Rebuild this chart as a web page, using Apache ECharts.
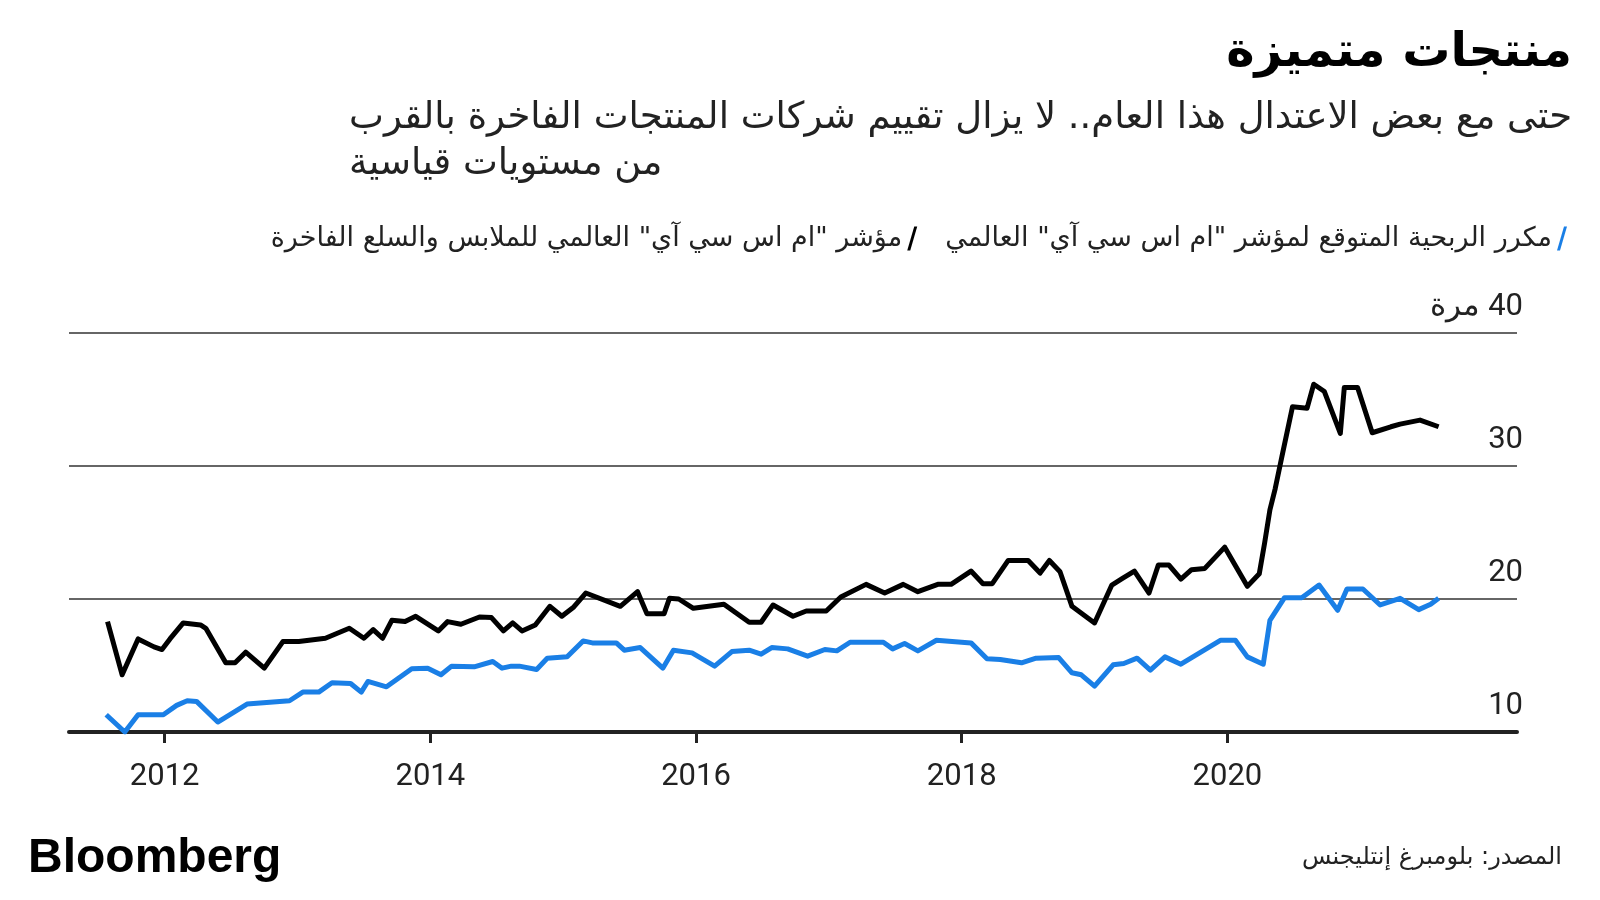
<!DOCTYPE html>
<html>
<head>
<meta charset="utf-8">
<script src="https://cdn.jsdelivr.net/npm/echarts@6/dist/echarts.min.js"></script>
<style>
  html, body { margin: 0; padding: 0; background: #fff; }
  #chart { width: 1600px; height: 900px; }
</style>
</head>
<body>
<div id="chart"></div>
<script>
// luxury index P/E (black)
var luxYears = [2011.57, 2011.68, 2011.80, 2011.92, 2011.98, 2012.04, 2012.14, 2012.27, 2012.31, 2012.46, 2012.53, 2012.61, 2012.75, 2012.89, 2013.01, 2013.21, 2013.39, 2013.50, 2013.57, 2013.64, 2013.71, 2013.81, 2013.89, 2014.06, 2014.13, 2014.23, 2014.37, 2014.46, 2014.55, 2014.62, 2014.69, 2014.79, 2014.90, 2014.99, 2015.08, 2015.17, 2015.43, 2015.56, 2015.63, 2015.76, 2015.80, 2015.87, 2015.98, 2016.21, 2016.40, 2016.49, 2016.58, 2016.73, 2016.83, 2016.98, 2017.09, 2017.28, 2017.42, 2017.56, 2017.67, 2017.82, 2017.92, 2018.07, 2018.16, 2018.23, 2018.35, 2018.50, 2018.59, 2018.66, 2018.74, 2018.83, 2019.00, 2019.13, 2019.21, 2019.30, 2019.41, 2019.48, 2019.56, 2019.65, 2019.73, 2019.83, 2019.98, 2020.15, 2020.24, 2020.28, 2020.32, 2020.36, 2020.41, 2020.49, 2020.60, 2020.65, 2020.73, 2020.85, 2020.88, 2020.98, 2021.09, 2021.23, 2021.30, 2021.45, 2021.59]
var luxValues = [18.3, 14.3, 17.0, 16.4, 16.2, 17.0, 18.2, 18.05, 17.8, 15.2, 15.2, 16.0, 14.8, 16.8, 16.8, 17.05, 17.8, 17.05, 17.7, 17.05, 18.4, 18.3, 18.7, 17.6, 18.3, 18.1, 18.65, 18.6, 17.6, 18.2, 17.6, 18.05, 19.45, 18.7, 19.4, 20.45, 19.45, 20.55, 18.9, 18.9, 20.05, 20.0, 19.3, 19.6, 18.25, 18.25, 19.55, 18.7, 19.1, 19.1, 20.15, 21.1, 20.45, 21.1, 20.55, 21.1, 21.1, 22.1, 21.15, 21.15, 22.9, 22.9, 21.95, 22.9, 22.05, 19.45, 18.2, 21.05, 21.55, 22.1, 20.45, 22.55, 22.55, 21.5, 22.2, 22.3, 23.9, 20.95, 21.9, 24.2, 26.7, 28.3, 30.7, 34.45, 34.35, 36.15, 35.6, 32.45, 35.9, 35.9, 32.5, 32.95, 33.15, 33.45, 32.95]

// MSCI world forward P/E (blue)
var worldYears = [2011.56, 2011.70, 2011.80, 2011.99, 2012.09, 2012.17, 2012.24, 2012.40, 2012.62, 2012.94, 2013.04, 2013.16, 2013.26, 2013.40, 2013.48, 2013.53, 2013.67, 2013.86, 2013.98, 2014.08, 2014.16, 2014.33, 2014.47, 2014.54, 2014.61, 2014.67, 2014.80, 2014.88, 2015.03, 2015.15, 2015.22, 2015.40, 2015.46, 2015.58, 2015.75, 2015.83, 2015.97, 2016.14, 2016.27, 2016.40, 2016.49, 2016.57, 2016.69, 2016.84, 2016.97, 2017.06, 2017.16, 2017.41, 2017.48, 2017.57, 2017.67, 2017.81, 2018.07, 2018.19, 2018.29, 2018.45, 2018.56, 2018.73, 2018.83, 2018.90, 2019.00, 2019.14, 2019.22, 2019.32, 2019.42, 2019.53, 2019.65, 2019.95, 2020.06, 2020.15, 2020.27, 2020.32, 2020.43, 2020.56, 2020.69, 2020.83, 2020.90, 2021.02, 2021.15, 2021.30, 2021.44, 2021.53, 2021.59]
var worldValues = [11.3, 10.0, 11.3, 11.3, 12.0, 12.35, 12.3, 10.75, 12.1, 12.35, 13.0, 13.0, 13.7, 13.65, 13.0, 13.8, 13.4, 14.75, 14.8, 14.3, 14.95, 14.9, 15.3, 14.8, 14.95, 14.95, 14.7, 15.55, 15.65, 16.85, 16.7, 16.7, 16.15, 16.35, 14.8, 16.15, 15.95, 14.95, 16.05, 16.15, 15.85, 16.35, 16.25, 15.7, 16.2, 16.1, 16.75, 16.75, 16.25, 16.65, 16.1, 16.9, 16.7, 15.5, 15.45, 15.2, 15.55, 15.6, 14.45, 14.3, 13.45, 15.05, 15.15, 15.55, 14.65, 15.65, 15.1, 16.9, 16.9, 15.65, 15.1, 18.4, 20.1, 20.1, 21.05, 19.15, 20.75, 20.75, 19.55, 20.05, 19.2, 19.6, 20.05]

var yearTicks = [2012, 2014, 2016, 2018, 2020]
var luxName = 'مؤشر "ام اس سي آي" العالمي للملابس والسلع الفاخرة'
var worldName = 'مكرر الربحية المتوقع لمؤشر "ام اس سي آي" العالمي'

var arabicFont = "'DejaVu Sans', 'Noto Sans', sans-serif"
var numFont = "Roboto, 'Noto Sans', sans-serif"
var slash = 'path://M7,0 L10,0 L3,24 L0,24 Z'

function pairs (xs, ys) {
  return xs.map(function (x, i) { return [x, ys[i]] })
}

var chart = echarts.init(document.getElementById('chart'))
chart.setOption({
  backgroundColor: '#fff',
  animation: false,
  grid: { left: 69, right: 83, top: 333, bottom: 168 },
  legend: {
    data: [luxName, worldName],
    right: 28,
    top: 220,
    align: 'right',
    icon: slash,
    itemWidth: 10,
    itemHeight: 25,
    itemGap: 28,
    textStyle: { fontFamily: arabicFont, fontSize: 27, color: '#222' }
  },
  xAxis: {
    type: 'value',
    min: 2011.28,
    max: 2022.18,
    axisLine: { show: true, lineStyle: { color: '#222', width: 4 } },
    axisTick: { show: true, customValues: yearTicks, length: 11, lineStyle: { color: '#222', width: 3 } },
    axisLabel: {
      customValues: yearTicks,
      margin: 30,
      fontFamily: numFont,
      fontSize: 31,
      color: '#222',
      formatter: function (v) { return String(v) }
    },
    splitLine: { show: false }
  },
  yAxis: {
    type: 'value',
    min: 10,
    max: 40,
    interval: 10,
    position: 'right',
    axisLine: { show: false },
    axisTick: { show: false },
    axisLabel: {
      inside: true,
      margin: -6,
      verticalAlign: 'bottom',
      padding: [0, 0, 10, 0],
      fontFamily: numFont,
      fontSize: 31,
      color: '#222',
      formatter: function (v) { return v === 40 ? 'مرة\u200E 40' : String(v) }
    },
    splitLine: { show: true, lineStyle: { color: '#333', width: 1.5 } }
  },
  series: [
    {
      name: luxName,
      type: 'line',
      symbol: 'none',
      color: '#000',
      lineStyle: { color: '#000', width: 5, join: 'round' },
      data: pairs(luxYears, luxValues)
    },
    {
      name: worldName,
      type: 'line',
      symbol: 'none',
      color: '#1a7fe6',
      lineStyle: { color: '#1a7fe6', width: 5, join: 'round' },
      data: pairs(worldYears, worldValues)
    }
  ],
  graphic: [
    {
      type: 'text',
      right: 28,
      top: 30,
      style: { text: 'منتجات متميزة', font: "bold 48px 'DejaVu Sans', sans-serif", fill: '#000' }
    },
    {
      type: 'text',
      right: 28,
      top: 95,
      style: {
        text: 'حتى مع بعض الاعتدال هذا العام.. لا يزال تقييم شركات المنتجات الفاخرة بالقرب\nمن مستويات قياسية',
        font: "37px 'DejaVu Sans', sans-serif",
        lineHeight: 46,
        align: 'right',
        fill: '#222'
      }
    },
    {
      type: 'text',
      left: 28,
      top: 835,
      style: { text: 'Bloomberg', font: "bold 48px 'Liberation Sans', Arial, sans-serif", fill: '#000' }
    },
    {
      type: 'text',
      right: 38,
      top: 846,
      style: { text: 'المصدر: بلومبرغ إنتليجنس', font: "24px 'DejaVu Sans', sans-serif", fill: '#222' }
    }
  ]
})
</script>
</body>
</html>
